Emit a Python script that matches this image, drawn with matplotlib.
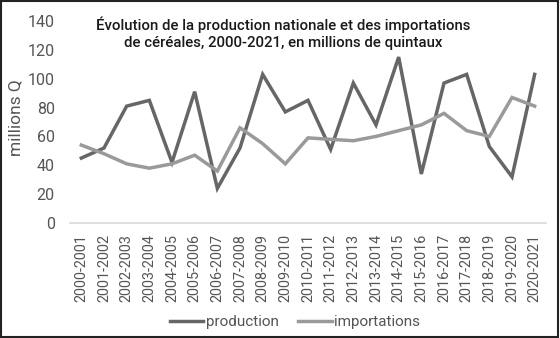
import matplotlib
matplotlib.use("Agg")
import matplotlib.pyplot as plt
from matplotlib.patches import Rectangle

categories = ["2000-2001", "2001-2002", "2002-2003", "2003-2004", "2004-2005",
              "2005-2006", "2006-2007", "2007-2008", "2008-2009", "2009-2010",
              "2010-2011", "2011-2012", "2012-2013", "2013-2014", "2014-2015",
              "2015-2016", "2016-2017", "2017-2018", "2018-2019", "2019-2020",
              "2020-2021"]
production = [45, 52, 81, 85, 42, 91, 24, 52, 103, 77, 85, 51, 97, 68, 115,
              34, 97, 103, 53, 32, 103]
importations = [54, 48, 41, 38, 41, 47, 36, 66, 55, 41, 59, 58, 57, 60, 64,
                68, 76, 64, 60, 87, 81]
yticks = [0, 20, 40, 60, 80, 100, 120, 140]

plt.rcParams['font.family'] = ['Roboto', 'DejaVu Sans']

W, H = 560, 338
fig = plt.figure(figsize=(W / 100, H / 100), dpi=100)
ax = fig.add_axes([70 / W, 1 - 223 / H, (546 - 70) / W, (223 - 21) / H])

x = list(range(len(categories)))
ax.plot(x, production, color="#666666", lw=2.5, label="production", solid_joinstyle="miter")
ax.plot(x, importations, color="#9a9a9a", lw=2.5, label="importations", solid_joinstyle="miter")

ax.set_xlim(-0.5, len(categories) - 0.5)
ax.set_ylim(0, 140)
ax.set_yticks(yticks)
ax.set_yticklabels([str(v) for v in yticks], fontsize=11.5, color="#555555")
ax.set_xticks(x)
ax.set_xticklabels(categories, rotation=90, fontsize=10.4, color="#555555")
ax.tick_params(length=0, pad=8)
ax.tick_params(axis='y', pad=11)
for s in ["top", "right", "left"]:
    ax.spines[s].set_visible(False)
ax.spines["bottom"].set_color("#d9d9d9")
ax.spines["bottom"].set_linewidth(1.2)

ax.set_ylabel("millions Q", fontsize=12.5, color="#555555")
ax.yaxis.set_label_coords(-0.098, 0.52)

fig.text(283 / W, 1 - 33 / H,
         "Évolution de la production nationale et des importations\nde céréales, 2000-2021, en millions de quintaux",
         ha="center", va="center", fontsize=10.8, fontweight="medium", color="#1a1a1a",
         linespacing=1.25)

fig.legend(loc="center", bbox_to_anchor=(295 / W, 1 - 322 / H), ncol=2, frameon=False,
           fontsize=11, handlelength=2.2, handletextpad=0.15, columnspacing=1.3,
           labelcolor="#555555")

fig.patches.append(Rectangle((0.002, 0.003), 0.995, 0.994, transform=fig.transFigure,
                             fill=False, edgecolor="#222222", lw=1.5))

fig.savefig("out.png", dpi=100)
